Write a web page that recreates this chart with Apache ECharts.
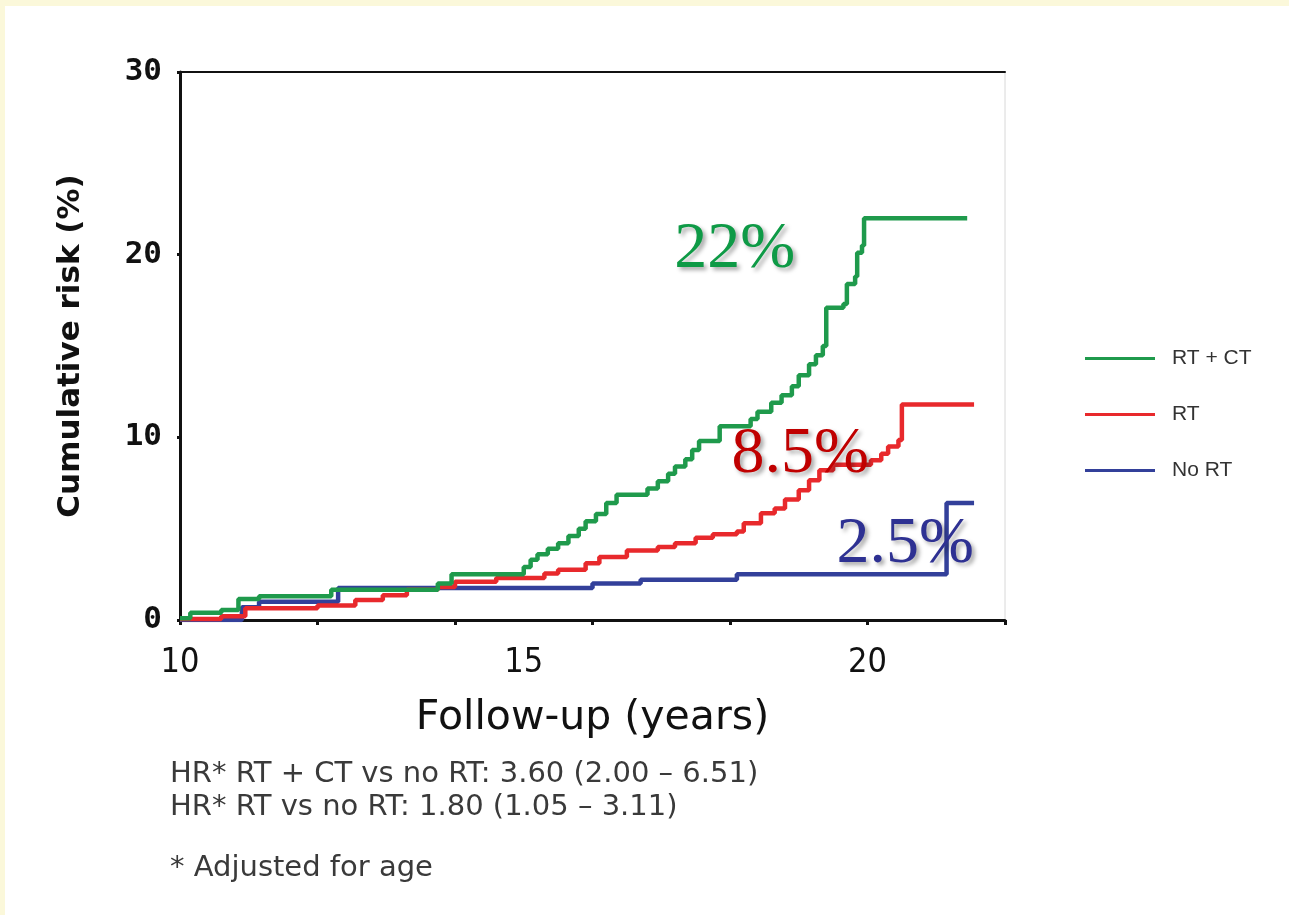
<!DOCTYPE html>
<html>
<head>
<meta charset="utf-8">
<title>Cumulative risk by treatment</title>
<script src="https://cdn.jsdelivr.net/npm/echarts@6/dist/echarts.min.js"></script>
<style>
  html, body { margin: 0; padding: 0; background: #fbf8da; }
  #chart { width: 1289px; height: 915px; }
</style>
</head>
<body>
<div id="chart"></div>
<script>
// Cumulative risk (%) against follow-up time (years), step curves per treatment group
const rtCt = [
  [10.0, 0.1], [10.15, 0.4], [10.6, 0.55], [10.85, 1.15], [11.15, 1.3], [12.2, 1.65],
  [13.75, 2.0], [13.95, 2.5], [15.0, 2.9], [15.1, 3.3], [15.2, 3.6], [15.35, 3.9],
  [15.5, 4.2], [15.65, 4.6], [15.8, 5.0], [15.9, 5.4], [16.05, 5.8], [16.2, 6.4],
  [16.35, 6.85], [16.8, 7.2], [16.95, 7.6], [17.1, 8.0], [17.2, 8.4], [17.35, 8.8],
  [17.45, 9.3], [17.55, 9.8], [17.85, 10.6], [18.3, 11.0], [18.4, 11.4], [18.6, 11.9],
  [18.75, 12.3], [18.9, 12.8], [19.0, 13.4], [19.15, 14.0], [19.25, 14.5], [19.35, 15.0],
  [19.4, 17.1], [19.65, 17.3], [19.7, 18.4], [19.82, 18.8], [19.85, 20.1], [19.92, 20.5],
  [19.95, 22.0], [21.45, 22.0]
];
const rtOnly = [
  [10.0, 0.05], [10.6, 0.2], [10.95, 0.65], [12.0, 0.8], [12.55, 1.1], [12.95, 1.35],
  [13.3, 1.65], [13.75, 1.8], [14.0, 2.1], [14.6, 2.3], [15.3, 2.55], [15.5, 2.75],
  [15.9, 3.1], [16.1, 3.45], [16.5, 3.8], [16.95, 4.0], [17.2, 4.2], [17.5, 4.5],
  [17.75, 4.7], [18.1, 4.85], [18.2, 5.3], [18.45, 5.85], [18.65, 6.1], [18.8, 6.6],
  [19.0, 7.1], [19.15, 7.65], [19.3, 8.2], [19.5, 8.5], [20.05, 8.75], [20.2, 9.1],
  [20.3, 9.5], [20.45, 9.85], [20.5, 11.8], [21.55, 11.8]
];
const noRt = [
  [10.0, 0.0], [10.9, 0.7], [11.15, 1.0], [12.3, 1.75], [16.0, 2.0], [16.7, 2.2],
  [18.1, 2.5], [21.15, 6.4], [21.55, 6.4]
];

const seriesNames = ['RT + CT', 'RT', 'No RT'];
const seriesColors = ['#1f9a4c', '#e8292c', '#33409a'];

const yTicks = [0, 10, 20, 30];
const xMajorLabels = [10, 15, 20];

// Risk callouts: [x, y, text]
const callouts = [
  [18.07, 20.3, '22%'],
  [19.02, 9.05, '8.5%'],
  [20.55, 4.1, '2.5%']
];
const calloutColors = ['#0e9a46', '#c00000', '#2e3192'];

const footnotes = [
  'HR* RT + CT vs no RT: 3.60 (2.00 \u2013 6.51)',
  'HR* RT vs no RT: 1.80 (1.05 \u2013 3.11)',
  '* Adjusted for age'
];

const chart = echarts.init(document.getElementById('chart'), null, { renderer: 'canvas' });

const lineSeries = [
  { name: seriesNames[2], data: noRt, color: seriesColors[2] },
  { name: seriesNames[1], data: rtOnly, color: seriesColors[1] },
  { name: seriesNames[0], data: rtCt, color: seriesColors[0] }
].map(s => ({
  name: s.name,
  type: 'line',
  step: 'end',
  data: s.data,
  showSymbol: false,
  symbol: 'none',
  lineStyle: { color: s.color, width: 4.5 },
  itemStyle: { color: s.color },
  animation: false,
  z: 3
}));

chart.setOption({
  animation: false,
  graphic: [
    { id: 'panel', type: 'rect', left: 5, top: 6, shape: { width: 1284, height: 909 }, style: { fill: '#ffffff' }, z: -10 },
    ...footnotes.map((t, i) => ({
      id: 'foot' + i,
      type: 'text',
      left: 170,
      top: [760, 793, 854][i],
      style: {
        text: t,
        fill: '#3a3a3a',
        font: '29px "DejaVu Sans", sans-serif'
      }
    }))
  ],
  grid: {
    left: 180, top: 72, right: 284, bottom: 295,
    show: true, borderColor: '#d8d8d8', borderWidth: 1, backgroundColor: 'transparent'
  },
  legend: {
    data: seriesNames,
    orient: 'vertical',
    left: 1080,
    top: 343,
    itemGap: 35,
    itemWidth: 70,
    itemHeight: 3,
    icon: 'rect',
    textStyle: { color: '#333', fontSize: 21, fontFamily: 'Liberation Sans', padding: [0, 0, 0, 12] }
  },
  xAxis: [
    {
      type: 'value', min: 10, max: 22, interval: 2,
      position: 'bottom',
      axisLine: { show: true, lineStyle: { color: '#111', width: 3 } },
      axisTick: { show: true, length: 5, lineStyle: { color: '#111', width: 3 } },
      axisLabel: { show: false },
      splitLine: { show: false }
    },
    {
      type: 'value', min: 10, max: 22, interval: 5,
      position: 'bottom',
      axisLine: { show: false },
      axisTick: { show: false },
      axisLabel: {
        show: true,
        margin: 26,
        color: '#111',
        fontSize: 34,
        fontFamily: '"Liberation Sans Narrow", "DejaVu Sans Condensed", sans-serif',
        formatter: v => xMajorLabels.includes(v) ? String(v) : ''
      },
      splitLine: { show: false },
      name: 'Follow-up (years)',
      nameLocation: 'middle',
      nameGap: 78,
      nameTextStyle: { color: '#111', fontSize: 41, fontFamily: 'DejaVu Sans' }
    },
    {
      type: 'value', min: 10, max: 22,
      position: 'top',
      axisLine: { show: true, lineStyle: { color: '#111', width: 2 } },
      axisTick: { show: false },
      axisLabel: { show: false },
      splitLine: { show: false }
    }
  ],
  yAxis: {
    type: 'value', min: 0, max: 30, interval: 10,
    axisLine: { show: true, lineStyle: { color: '#111', width: 3 } },
    axisTick: { show: true, length: 3, lineStyle: { color: '#111', width: 3 } },
    axisLabel: {
      margin: 18,
      color: '#111',
      fontSize: 31,
      fontWeight: 'bold',
      fontFamily: '"DejaVu Sans Mono", monospace',
      formatter: v => yTicks.includes(v) ? String(v) : ''
    },
    splitLine: { show: false },
    name: 'Cumulative risk (%)',
    nameLocation: 'middle',
    nameGap: 94,
    nameTextStyle: { color: '#111', fontSize: 31, fontWeight: 'bold', fontFamily: 'DejaVu Sans' }
  },
  series: lineSeries
});

// Place the risk callouts at their data coordinates using the chart's own scales
chart.setOption({
  graphic: callouts.map((c, i) => {
    const p = chart.convertToPixel({ xAxisIndex: 0, yAxisIndex: 0 }, [c[0], c[1]]);
    return {
      id: 'callout' + i,
      type: 'text',
      x: p[0],
      y: p[1],
      z: 10,
      style: {
        text: c[2],
        fill: calloutColors[i],
        font: '66px "Liberation Serif", serif',
        align: 'center',
        verticalAlign: 'middle',
        textShadowColor: 'rgba(0,0,0,0.35)',
        textShadowBlur: 4,
        textShadowOffsetX: 3,
        textShadowOffsetY: 3
      }
    };
  })
});
</script>
</body>
</html>
